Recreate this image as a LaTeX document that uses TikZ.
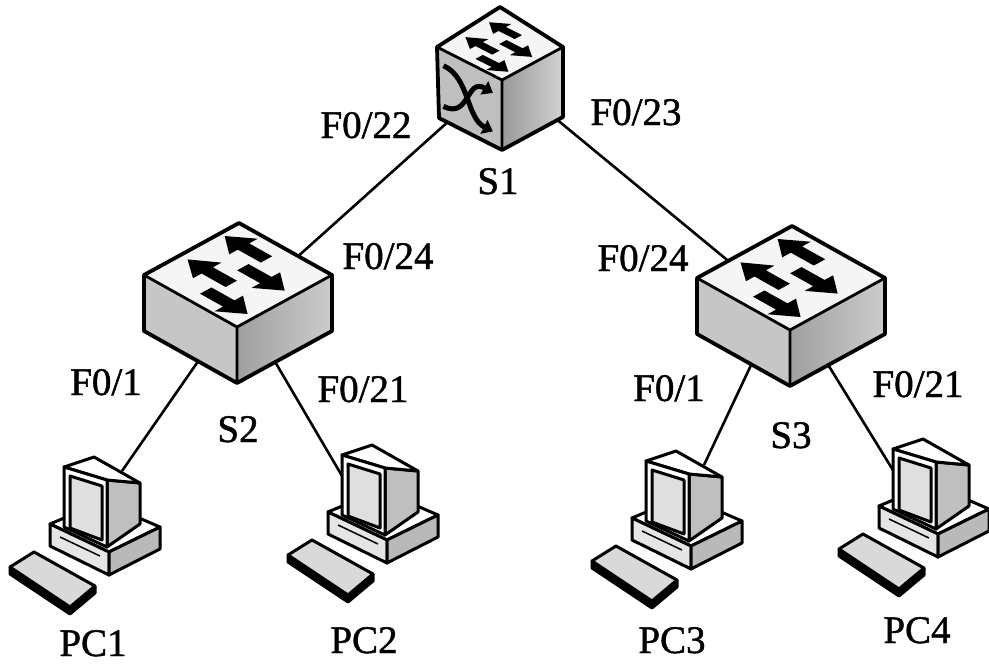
\documentclass[tikz,border=0pt]{standalone}
\usepackage{fontspec}
\setmainfont{Liberation Serif}
\newfontfamily\lblfont{Liberation Serif}[FakeBold=1.2]
\usetikzlibrary{arrows.meta,backgrounds}

% filled arrow on a skewed face: #1 start s, #2 tip s, #3 t
\newcommand\facearrow[3]{%
  \fill[black] (#1,{#3-0.06}) -- ({0.45*#1+0.55*#2},{#3-0.06}) -- ({0.45*#1+0.55*#2},{#3-0.15})
    -- (#2,#3) -- ({0.45*#1+0.55*#2},{#3+0.15}) -- ({0.45*#1+0.55*#2},{#3+0.06}) -- (#1,{#3+0.06}) -- cycle;}

\tikzset{
  swout/.style={line width=3.8pt, line join=round},
  swin/.style={line width=2.8pt, line join=round},
  pcline/.style={line width=3pt, line join=round},
  link/.style={line width=2.6pt},
  lbl/.style={font=\lblfont\fontsize{39}{42}\selectfont, inner sep=0pt, anchor=base},
  wgswitch/.pic={
    \fill[gray!8] (2,-104) -- (95,-52) -- (0,0) -- (-93,-52) -- cycle;
    \fill[gray!45] (-93,-52) -- (0,0) -- (0,56) -- (-93,4) -- cycle;
    \shade[left color=gray!75, right color=gray!40] (0,0) -- (95,-52) -- (95,4) -- (0,56) -- cycle;
    \begin{scope}[x={(-93pt,52pt)}, y={(95pt,52pt)}]
      \facearrow{0.5}{0.95}{0.8}
      \facearrow{0.55}{0.1}{0.6}
      \facearrow{0.45}{0.92}{0.38}
      \facearrow{0.52}{0.07}{0.18}
    \end{scope}
    \draw[swout] (2,-104) -- (95,-52) -- (95,4) -- (0,56) -- (-93,4) -- (-93,-52) -- cycle;
    \draw[swin] (-93,-52) -- (0,0) -- (95,-52) (0,0) -- (0,56);
    \coordinate (-ne) at (58,-68);
    \coordinate (-nw) at (-58,-66);
    \coordinate (-sw) at (-38,33);
    \coordinate (-se) at (37,33);
  },
  mlswitch/.pic={
    \fill[gray!8] (-2,-73) -- (61,-33) -- (0,0) -- (-65,-33) -- cycle;
    \fill[gray!50] (-65,-33) -- (0,0) -- (0,70) -- (-63,38) -- cycle;
    \shade[left color=gray!80, right color=gray!35] (0,0) -- (61,-33) -- (61,37) -- (0,70) -- cycle;
    \begin{scope}[x={(-65pt,33pt)}, y={(61pt,33pt)}]
      \facearrow{0.5}{0.95}{0.8}
      \facearrow{0.55}{0.1}{0.6}
      \facearrow{0.45}{0.92}{0.38}
      \facearrow{0.52}{0.07}{0.18}
    \end{scope}
    \begin{scope}[shift={(-65,-33)}, x={(65pt,-33pt)}, y={(0pt,-70pt)}]
      \draw[line width=5pt, -{Triangle[length=10pt,width=15pt]}] (0.1,0.22) .. controls (0.5,0.2) and (0.45,0.8) .. (0.86,0.8);
      \draw[line width=5pt, -{Triangle[length=10pt,width=15pt]}] (0.1,0.8) .. controls (0.5,0.8) and (0.45,0.22) .. (0.86,0.25);
    \end{scope}
    \draw[swout] (-2,-73) -- (61,-33) -- (61,37) -- (0,70) -- (-63,38) -- (-65,-33) -- cycle;
    \draw[swin] (-65,-33) -- (0,0) -- (61,-33) (0,0) -- (0,70);
    \coordinate (-sw) at (-52,40);
    \coordinate (-se) at (53,38);
  },
  pc/.pic={
    % keyboard
    \fill[black] (0,110) -- (60,150) -- (85,129) -- (85,136) -- (60,157) -- (0,117) -- cycle;
    \draw[pcline, fill=gray!30] (0,110) -- (24,95) -- (85,129) -- (60,150) -- cycle;
    \draw[pcline] (0,110) -- (0,117) -- (60,157) -- (85,136) -- (85,129);
    % base unit
    \draw[pcline, fill=white] (40,67) -- (92,45) -- (150,70) -- (99,95) -- cycle;
    \draw[pcline, fill=gray!20] (40,67) -- (99,95) -- (99,118) -- (40,89) -- cycle;
    \draw[pcline, fill=gray!55] (99,95) -- (150,70) -- (150,92) -- (99,118) -- cycle;
    \draw[line width=1.5pt] (50,80) -- (90,99);
    % monitor
    \draw[pcline, fill=gray!50] (97,23) -- (130,26) -- (130,67) -- (97,90) -- cycle;
    \draw[pcline, fill=white] (54,10) -- (84,0) -- (130,26) -- (97,23) -- cycle;
    \draw[pcline, fill=white] (54,10) -- (97,23) -- (97,90) -- (54,70) -- cycle;
    \draw[pcline, fill=gray!25] (60,19) -- (92,29) -- (92,83) -- (60,71) -- cycle;
    \coordinate (-back) at (112,14);
    \coordinate (-side) at (57,36);
  }
}

\begin{document}
\begin{tikzpicture}[x=1pt, y=-1pt]
\useasboundingbox (0,0) rectangle (989,664);

\pic (s1) at (502,80) {mlswitch};
\pic (s2) at (237,327) {wgswitch};
\pic (s3) at (790,330) {wgswitch};
\pic (pc1) at (10,457) {pc};
\pic (pc2) at (288,445) {pc};
\pic (pc3) at (592,451) {pc};
\pic (pc4) at (839,439) {pc};

\begin{scope}[on background layer]
  \draw[link] (s1-sw) -- (s2-ne);
  \draw[link] (s1-se) -- (s3-nw);
  \draw[link] (s2-sw) -- (pc1-back);
  \draw[link] (s2-se) -- (pc2-side);
  \draw[link] (s3-sw) -- (pc3-back);
  \draw[link] (s3-se) -- (pc4-side);
\end{scope}

\node[lbl] (t1) at (366,138) {F0/22};
\node[lbl] (t2) at (636,125) {F0/23};
\node[lbl] (ts1) at (498,194) {S1};
\node[lbl] (t3) at (388,269) {F0/24};
\node[lbl] (t4) at (643,271) {F0/24};
\node[lbl] (t5) at (106,395) {F0/1};
\node[lbl] (t6) at (363,402) {F0/21};
\node[lbl] (ts2) at (238,442) {S2};
\node[lbl] (t7) at (669,401) {F0/1};
\node[lbl] (ts3) at (791,448) {S3};
\node[lbl] (t8) at (918,397) {F0/21};
\node[lbl] (tp1) at (93,656) {PC1};
\node[lbl] (tp2) at (364,653) {PC2};
\node[lbl] (tp3) at (672,653) {PC3};
\node[lbl] (tp4) at (917,643) {PC4};
\end{tikzpicture}
\end{document}
